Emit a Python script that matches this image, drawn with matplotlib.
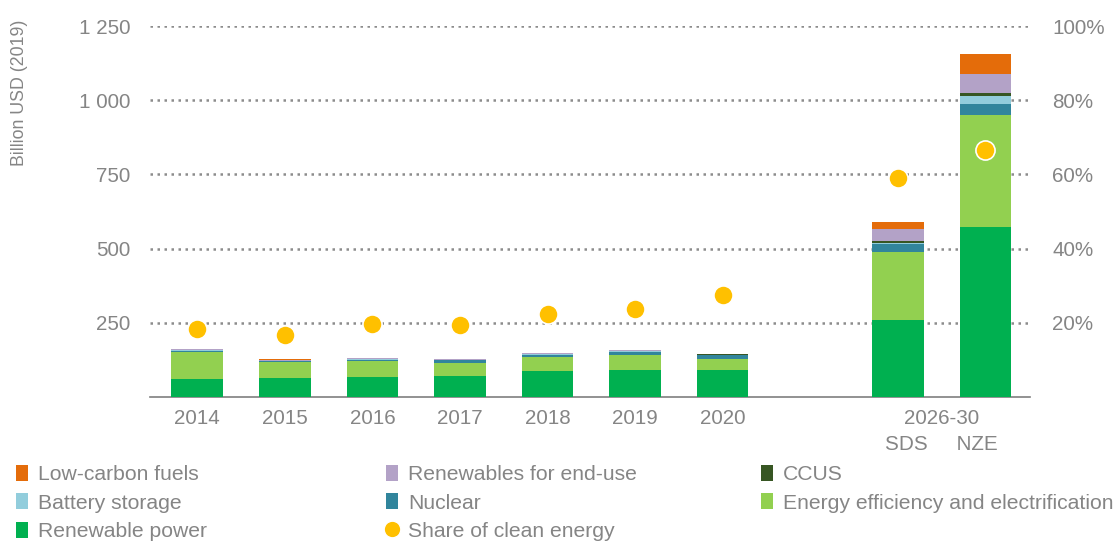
import matplotlib
matplotlib.use('Agg')
import matplotlib.pyplot as plt
import numpy as np
from matplotlib.patches import Patch
from matplotlib.lines import Line2D

plt.rcParams['font.family'] = ['Liberation Sans', 'DejaVu Sans']

# 数据 (十亿美元, 2019)
labels = ['2014', '2015', '2016', '2017', '2018', '2019', '2020', 'SDS', 'NZE']
renewable_power = [59, 65, 68, 71, 86, 92, 91, 258, 573]
efficiency = [92, 52, 52, 44, 48, 50, 37, 229, 376]
nuclear = [5, 4, 6, 8, 9, 11, 13, 27, 38]
battery = [1, 1, 1, 1, 2, 2, 2, 5, 26]
ccus = [1, 0.5, 0.5, 0.5, 0.5, 0.5, 0.5, 7, 10]
renew_end_use = [3, 2, 3, 3, 2, 2, 1, 39, 66]
low_carbon = [2, 2, 2, 2, 2, 2, 2, 24, 65]
share = [18.3, 16.7, 19.8, 19.5, 22.4, 23.7, 27.5, 58.9, 66.6]  # %

series = [
    ('Renewable power', renewable_power, '#00B050'),
    ('Energy efficiency and electrification', efficiency, '#92D050'),
    ('Nuclear', nuclear, '#31859C'),
    ('Battery storage', battery, '#92CDDC'),
    ('CCUS', ccus, '#375623'),
    ('Renewables for end-use', renew_end_use, '#B3A2C7'),
    ('Low-carbon fuels', low_carbon, '#E46C0A'),
]
share_color = '#FFC000'
grey = '#858585'
fs = 14.9

x = np.array([0, 1, 2, 3, 4, 5, 6, 8, 9])

fig = plt.figure(figsize=(11.15, 5.41), dpi=100)
ax = fig.add_axes([150/1115, 1-397/541, 880/1115, 371/541])

bottom = np.zeros(len(x))
handles = {}
for name, vals, col in series:
    v = np.array(vals, dtype=float)
    ax.bar(x, v, width=0.59, bottom=bottom, color=col, linewidth=0, zorder=3)
    bottom += v
    handles[name] = Patch(facecolor=col, edgecolor='none')

ax.set_xlim(-0.54, 9.51)
ax.set_ylim(0, 1250)
ax.set_yticks([250, 500, 750, 1000, 1250])
ax.set_yticklabels(['250', '500', '750', '1 000', '1 250'])
ax.yaxis.grid(True, linestyle=(0, (1, 1.8)), linewidth=1.8, color='#8C8C8C', zorder=0)
ax.set_axisbelow(True)
for s in ['top', 'right', 'left']:
    ax.spines[s].set_visible(False)
ax.spines['bottom'].set_color('#7F7F7F')
ax.spines['bottom'].set_linewidth(1.2)
ax.set_xticks(list(x[:7]) + [8.5])
ax.set_xticklabels(labels[:7] + ['2026-30\nSDS     NZE'], linespacing=1.45)
ax.tick_params(axis='both', length=0, labelsize=fs, labelcolor=grey)
ax.tick_params(axis='y', pad=14)
ax.tick_params(axis='x', pad=9)

ax2 = ax.twinx()
ax2.set_ylim(0, 100)
ax2.set_yticks([20, 40, 60, 80, 100])
ax2.set_yticklabels(['20%', '40%', '60%', '80%', '100%'])
ax2.tick_params(axis='y', length=0, labelsize=fs, labelcolor=grey, pad=16)
for s in ['top', 'right', 'left', 'bottom']:
    ax2.spines[s].set_visible(False)
ax2.scatter(x, share, s=190, color=share_color, edgecolors='white', linewidths=1.2, zorder=5)

# y轴标题
fig.text(20/1115, 1-93/541, 'Billion USD (2019)', rotation=90, ha='center', va='center',
         fontsize=12.8, color=grey)

# 图例 (三列)
share_h = Line2D([], [], marker='o', linestyle='none', markerfacecolor=share_color,
                 markeredgecolor='white', markersize=12)
cols = [
    (['Low-carbon fuels', 'Battery storage', 'Renewable power'], 16),
    (['Renewables for end-use', 'Nuclear', 'Share of clean energy'], 386),
    (['CCUS', 'Energy efficiency and electrification'], 761),
]
for names_c, xpix in cols:
    hs = [share_h if n == 'Share of clean energy' else handles[n] for n in names_c]
    fig.legend(hs, names_c, loc='upper left', bbox_to_anchor=(xpix/1115, 1-465/541),
               frameon=False, fontsize=15.2, handlelength=0.55, handleheight=0.8,
               handletextpad=0.5, labelspacing=0.42, borderaxespad=0, borderpad=0,
               labelcolor=grey)

fig.savefig('out.png', dpi=100)
